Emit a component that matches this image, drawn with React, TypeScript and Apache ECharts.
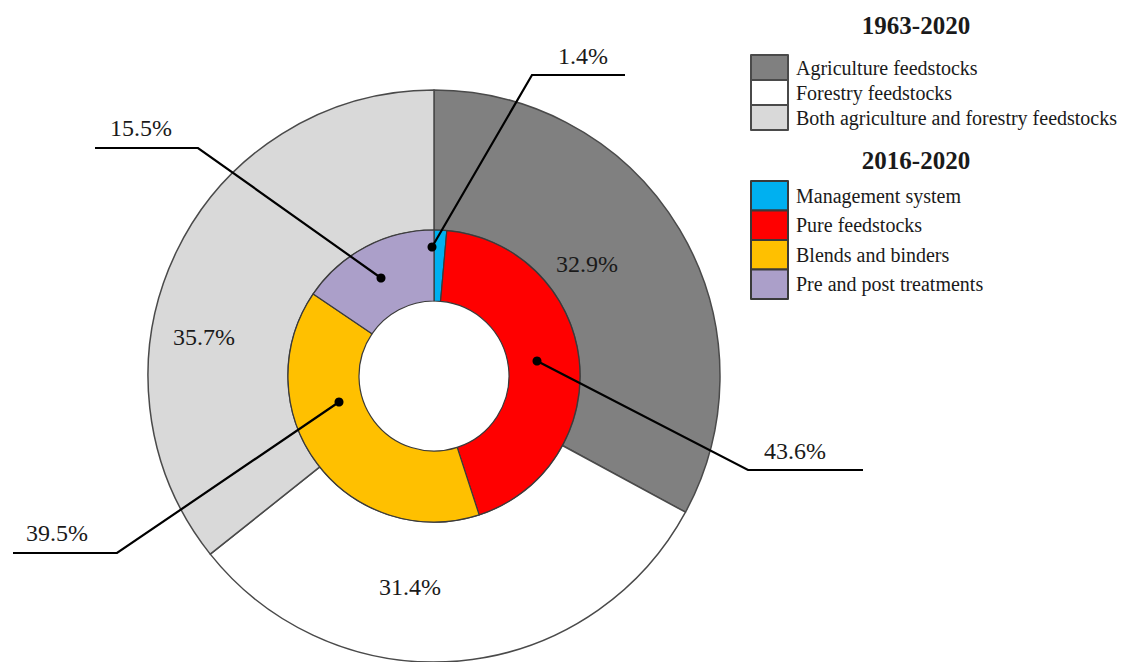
import React, { useEffect, useRef } from "react";
import * as echarts from "echarts";

const periodOuter = "1963-2020";
const periodInner = "2016-2020";
const outerCategories = [
  "Agriculture feedstocks",
  "Forestry feedstocks",
  "Both agriculture and forestry feedstocks",
];
const outerValues = [32.9, 31.4, 35.7];
const innerCategories = [
  "Management system",
  "Pure feedstocks",
  "Blends and binders",
  "Pre and post treatments",
];
const innerValues = [1.4, 43.6, 39.5, 15.5];

const outerColors = ["#808080", "#ffffff", "#d9d9d9"];
const innerColors = ["#00b0f0", "#ff0000", "#ffc000", "#ab9fc9"];

const FONT = "Liberation Serif";
const CENTER = [434, 376];

// hand-placed label positions (pixels)
const outerLabelPos = [
  [587, 264],
  [410, 587],
  [204, 337],
];
const innerLabelPos = [
  [583, 56],
  [795, 451],
  [57, 533],
  [141, 128],
];
const innerLeader = [
  [[432, 247], [532, 75], [625, 75]],
  [[537, 361], [748, 470], [863, 470]],
  [[339, 402], [117, 553], [13, 553]],
  [[381, 278], [198, 148], [95, 148]],
];

export default function App() {
  const ref = useRef<HTMLDivElement>(null);
  useEffect(() => {
    document.body.style.margin = "0";
    if (!ref.current) return;
    const chart = echarts.init(ref.current, undefined, { renderer: "svg" });
    const labelText = {
      fontFamily: FONT,
      fontSize: 24,
      color: "#1a1a1a",
      formatter: (p: any) => p.value.toFixed(1) + "%",
    };
    const legendBase = {
      orient: "vertical",
      left: 750,
      padding: 0,
      icon: "rect",
      itemGap: -2,
      itemWidth: 37,
      selectedMode: false,
    };
    const legendText = (lh: number) => ({
      fontFamily: FONT,
      fontSize: 20,
      color: "#1a1a1a",
      lineHeight: lh,
      padding: [0, 0, 0, 3],
    });
    const titleStyle = {
      fontFamily: FONT,
      fontWeight: "bold",
      fontSize: 25,
      fill: "#1a1a1a",
      align: "center",
      verticalAlign: "middle",
    };
    const innerBase = {
      type: "pie",
      name: periodInner,
      center: CENTER,
      radius: [75, 146],
      startAngle: 90,
      clockwise: true,
      avoidLabelOverlap: false,
      emphasis: { disabled: true },
    };
    chart.setOption({
      animation: false,
      backgroundColor: "#ffffff",
      legend: [
        {
          ...legendBase,
          data: outerCategories,
          top: 54,
          itemHeight: 25,
          textStyle: legendText(25),
        },
        {
          ...legendBase,
          data: innerCategories,
          top: 180,
          itemHeight: 29.5,
          textStyle: legendText(29.5),
        },
      ],
      graphic: [
        {
          type: "text",
          x: 916,
          y: 25,
          style: { text: periodOuter, ...titleStyle },
        },
        {
          type: "text",
          x: 916,
          y: 160,
          style: { text: periodInner, ...titleStyle },
        },
        ...innerLeader.map((pts) => ({
          type: "circle",
          z: 100,
          shape: { cx: pts[0][0], cy: pts[0][1], r: 4.5 },
          style: { fill: "#000" },
        })),
      ],
      series: [
        {
          type: "pie",
          name: periodOuter,
          z: 2,
          center: CENTER,
          radius: [146, 286],
          startAngle: 90,
          clockwise: true,
          avoidLabelOverlap: false,
          itemStyle: { borderColor: "#4a4a4a", borderWidth: 1.5 },
          emphasis: { disabled: true },
          label: { show: true, position: "inside", ...labelText },
          labelLine: { show: false },
          labelLayout: (p: any) => ({
            x: outerLabelPos[p.dataIndex][0],
            y: outerLabelPos[p.dataIndex][1],
            align: "center",
            verticalAlign: "middle",
          }),
          data: outerCategories.map((n, i) => ({
            name: n,
            value: outerValues[i],
            itemStyle: { color: outerColors[i] },
          })),
        },
        {
          ...innerBase,
          z: 4,
          itemStyle: { borderColor: "#3a3a3a", borderWidth: 1.2 },
          label: { show: false },
          labelLine: { show: false },
          data: innerCategories.map((n, i) => ({
            name: n,
            value: innerValues[i],
            itemStyle: { color: innerColors[i] },
          })),
        },
        {
          // transparent copy carrying the leader lines and labels above the ring
          ...innerBase,
          z: 6,
          silent: true,
          legendHoverLink: false,
          itemStyle: { color: "rgba(0,0,0,0)", borderWidth: 0 },
          label: { show: true, position: "outside", ...labelText },
          labelLine: {
            show: true,
            smooth: false,
            lineStyle: { color: "#000", width: 2.2 },
          },
          labelLayout: (p: any) => ({
            x: innerLabelPos[p.dataIndex][0],
            y: innerLabelPos[p.dataIndex][1],
            align: "center",
            verticalAlign: "middle",
            labelLinePoints: innerLeader[p.dataIndex],
          }),
          data: innerCategories.map((n, i) => ({
            name: n,
            value: innerValues[i],
          })),
        },
      ],
    });
    return () => chart.dispose();
  }, []);
  return <div ref={ref} style={{ width: 1124, height: 662 }} />;
}
